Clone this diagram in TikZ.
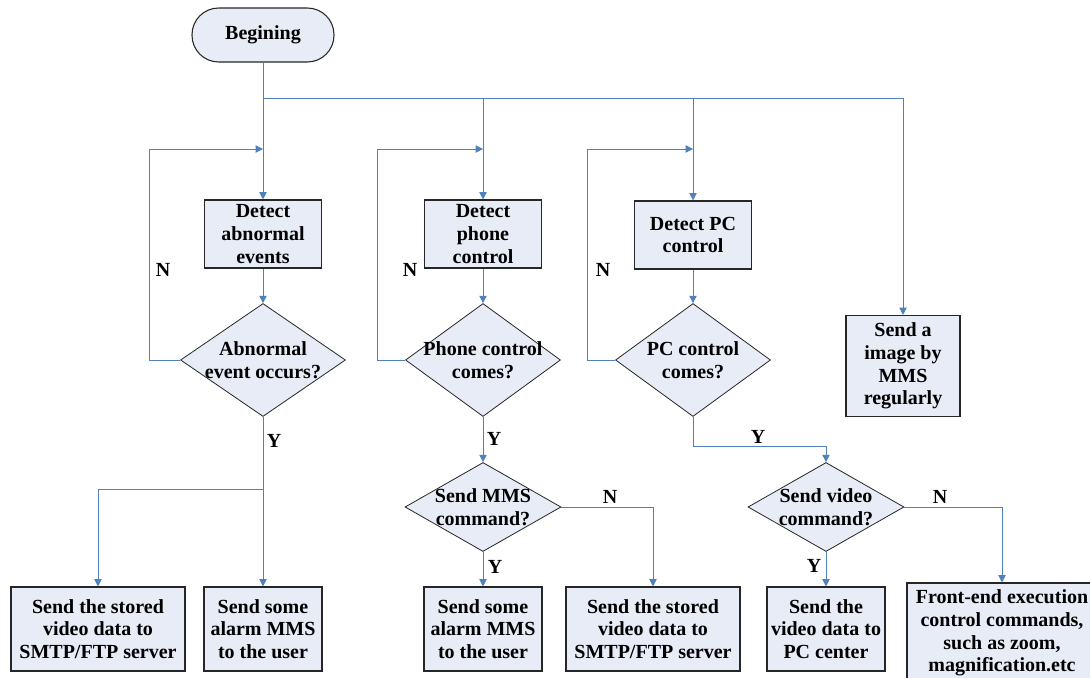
\documentclass[tikz,border=0pt]{standalone}
\usepackage{fontspec}
\setmainfont{Liberation Serif}
\usetikzlibrary{shapes.geometric,arrows.meta}
\definecolor{flowblue}{RGB}{79,129,189}
\definecolor{boxfill}{RGB}{231,236,247}
\newcommand{\flowfont}{\fontsize{15}{17}\selectfont\bfseries}
\tikzset{
    proc/.style={draw=black!85,fill=boxfill,line width=0.8pt,align=center,
        inner sep=1pt,font=\flowfont},
    term/.style={proc,rounded corners=20pt,minimum width=106.5pt,minimum height=40.5pt},
    detbox/.style={proc,minimum width=88pt,minimum height=51pt},
    outbox/.style={proc,minimum width=88.5pt,minimum height=63pt},
    widebox/.style={proc,minimum width=130.5pt,minimum height=63pt},
    decision/.style={diamond,draw=black!85,fill=boxfill,line width=0.6pt,inner sep=0pt},
    dtext/.style={align=center,font=\flowfont,inner sep=0pt},
    tag/.style={font=\flowfont,inner sep=0pt},
    link/.style={draw=flowblue,line width=0.75pt},
    flow/.style={link,-{Triangle[length=5.5pt,width=5.5pt]}}
}

\begin{document}
\begin{tikzpicture}[x=0.75pt,y=-0.75pt]
\useasboundingbox (0,0) rectangle (1090,678);

% Start
\node[term] (begin) at (263,35) {Begining};

% Detection boxes
\node[detbox] (detAbn) at (263,234) {Detect\\abnormal\\events};
\node[detbox] (detPhone) at (483,234) {Detect\\phone\\control};
\node[detbox] (detPC) at (693,235) {Detect PC\\control};
\node[proc,minimum width=85.5pt,minimum height=75.75pt] (sendImg) at (903,366)
    {Send a\\image by\\MMS\\regularly};

% Decisions
\node[decision,minimum width=123.75pt,minimum height=84.75pt,
    label={[dtext]center:{Abnormal\\event occurs?}}] (decAbn) at (263,360) {};
\node[decision,minimum width=116.25pt,minimum height=84.75pt,
    label={[dtext]center:{Phone control\\comes?}}] (decPhone) at (483,360) {};
\node[decision,minimum width=116.25pt,minimum height=84.75pt,
    label={[dtext]center:{PC control\\comes?}}] (decPC) at (693,360) {};
\node[decision,minimum width=117pt,minimum height=66.75pt,
    label={[dtext]center:{Send MMS\\command?}}] (decMMS) at (483,507) {};
\node[decision,minimum width=117pt,minimum height=66.75pt,
    label={[dtext]center:{Send video\\command?}}] (decVideo) at (826,507) {};

% Actions
\node[widebox] (storeA) at (98,629) {Send the stored\\video data to\\SMTP/FTP server};
\node[outbox] (alarmA) at (263,629) {Send some\\alarm MMS\\to the user};
\node[outbox] (alarmB) at (483,629) {Send some\\alarm MMS\\to the user};
\node[widebox] (storeB) at (653,629) {Send the stored\\video data to\\SMTP/FTP server};
\node[outbox] (videoPC) at (826,629) {Send the\\video data to\\PC center};
\node[proc,minimum width=142.5pt,minimum height=75pt] (frontEnd) at (1002,633)
    {Front-end execution\\control commands,\\such as zoom,\\magnification.etc};

% Branching from start
\coordinate (split) at (263,98);
\draw[link] (begin) -- (split);
\draw[flow] (split) -| (sendImg);
\draw[flow] (split) -- (detAbn);
\draw[flow] (split -| detPhone) -- (detPhone);
\draw[flow] (split -| detPC) -- (detPC);

% Loops back on N
\coordinate (joinAbn) at (263,149);
\coordinate (joinPhone) at (483,149);
\coordinate (joinPC) at (693,149);
\draw[flow] (decAbn.west) -- ++(-31,0) |- (joinAbn);
\draw[flow] (decPhone.west) -- ++(-28,0) |- (joinPhone);
\draw[flow] (decPC.west) -- ++(-28,0) |- (joinPC);

\draw[flow] (detAbn) -- (decAbn);
\draw[flow] (detPhone) -- (decPhone);
\draw[flow] (detPC) -- (decPC);

% Abnormal event branch
\coordinate (forkAbn) at (263,489);
\draw[flow] (decAbn) -- (alarmA);
\draw[flow] (forkAbn) -| (storeA);

% Phone branch
\draw[flow] (decPhone) -- (decMMS);
\draw[flow] (decMMS) -- (alarmB);
\draw[flow] (decMMS.east) -| (storeB);

% PC branch
\draw[flow] (decPC.south) -- ++(0,30) -| (decVideo);
\draw[flow] (decVideo) -- (videoPC);
\draw[flow] (decVideo.east) -| (frontEnd);

% Y / N tags
\node[tag] (nAbn) at (163,270) {N};
\node[tag] (nPhone) at (410,270) {N};
\node[tag] (nPC) at (603,270) {N};
\node[tag] (yAbn) at (274,441) {Y};
\node[tag] (yPhone) at (494,439) {Y};
\node[tag] (yPC) at (758,437) {Y};
\node[tag] (yMMS) at (495,567) {Y};
\node[tag] (nMMS) at (610,497) {N};
\node[tag] (yVideo) at (814,566) {Y};
\node[tag] (nVideo) at (940,497) {N};

\end{tikzpicture}
\end{document}
